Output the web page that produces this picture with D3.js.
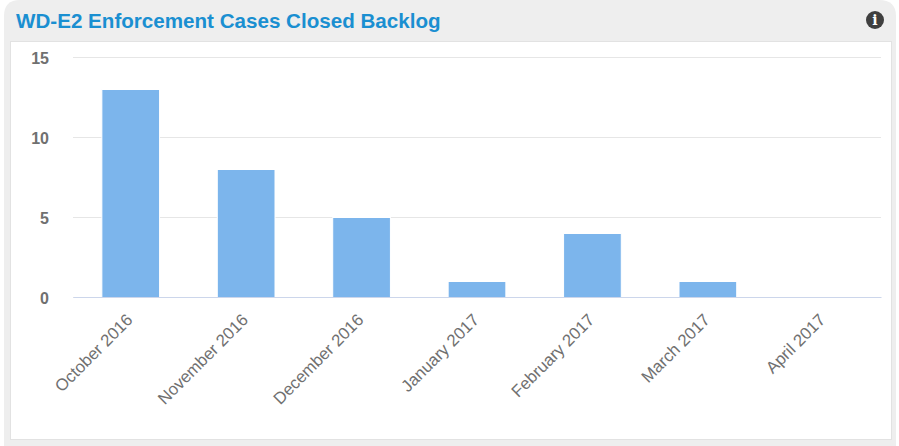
<!DOCTYPE html>
<html>
<head>
<meta charset="utf-8">
<script src="https://cdn.jsdelivr.net/npm/d3@7"></script>
<style>
    html, body { margin: 0; padding: 0; background: #fff; overflow: hidden; }
    text { font-family: "Liberation Sans", Arial, sans-serif; }
</style>
</head>
<body>
<script>
(function() {

    const width = 899;
    const height = 446;

    const months = ["October 2016", "November 2016", "December 2016", "January 2017",
        "February 2017", "March 2017", "April 2017"];
    const closedCases = [13, 8, 5, 1, 4, 1, 0];
    const yTicks = [0, 5, 10, 15];
    const chartTitle = "WD-E2 Enforcement Cases Closed Backlog";

    const margin = {left: 73, right: 18, top: 57, bottom: 149};

    let svg = d3.select("body").append("svg")
        .attr("width", width)
        .attr("height", height)
        .style("display", "block");

    // panel: grey header and frame, white body
    svg.append("path")
        .attr("d", "M4,446V16Q4,0 20,0H879Q896,0 896,16V446Z")
        .style("fill", "#eeeeee");
    svg.append("rect")
        .attr("x", 10.5)
        .attr("y", 41.5)
        .attr("width", 881)
        .attr("height", 398)
        .style("fill", "#fff")
        .style("stroke", "#e2e2e2");

    svg.append("text")
        .attr("x", 16)
        .attr("y", 28)
        .style("font-size", "20.6px")
        .style("font-weight", "bold")
        .style("fill", "#1a8fd1")
        .text(chartTitle);

    // info icon
    let info = svg.append("g").attr("transform", "translate(875,20)");
    info.append("circle")
        .attr("r", 9)
        .style("fill", "#3f3f3f");
    info.append("text")
        .attr("y", 5)
        .attr("text-anchor", "middle")
        .style("font-family", "'DejaVu Serif', serif")
        .style("font-size", "14px")
        .style("font-weight", "bold")
        .style("fill", "#fff")
        .text("i");

    let x = d3.scaleBand()
        .domain(months)
        .range([margin.left, width - margin.right])
        .paddingInner(0.5)
        .paddingOuter(0.25);

    let y = d3.scaleLinear()
        .domain([0, 15])
        .range([height - margin.bottom, margin.top]);

    // y axis with gridlines
    let yAxis = svg.append("g")
        .attr("transform", "translate(" + margin.left + ",0)")
        .call(d3.axisLeft(y)
            .tickValues(yTicks)
            .tickSize(-(width - margin.left - margin.right))
            .tickPadding(24));
    yAxis.select(".domain").remove();
    yAxis.selectAll("line")
        .style("stroke", "#e6e6e6")
        .style("stroke-width", 1);
    yAxis.selectAll("text")
        .attr("dy", "0.42em")
        .style("font-size", "16px")
        .style("font-weight", "bold")
        .style("fill", "#707070");

    svg.selectAll("rect.bar")
        .data(closedCases)
        .enter()
        .append("rect")
        .attr("class", "bar")
        .attr("x", function(d, i) { return x(months[i]); })
        .attr("y", function(d) { return y(d) + 0.5; })
        .attr("width", x.bandwidth())
        .attr("height", function(d) { return y(0) - y(d); })
        .style("fill", "#7cb5ec")
        .style("stroke", "#fff")
        .style("stroke-width", 1);

    // x axis with rotated labels
    let xAxis = svg.append("g")
        .attr("transform", "translate(0," + y(0) + ")")
        .call(d3.axisBottom(x).tickSize(0));
    xAxis.select(".domain")
        .style("stroke", "#ccd6eb");
    xAxis.selectAll("text")
        .attr("text-anchor", "end")
        .attr("dx", 0)
        .attr("dy", 0)
        .attr("y", 0)
        .attr("transform", "translate(3,24) rotate(-45)")
        .style("font-size", "16.8px")
        .style("fill", "#707070");

})();
</script>
</body>
</html>
